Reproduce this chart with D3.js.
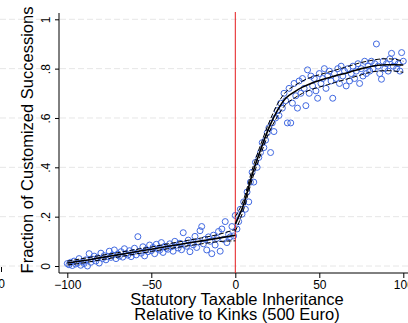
<!DOCTYPE html>
<html><head><meta charset="utf-8">
<script src="https://cdn.jsdelivr.net/npm/d3@7"></script>
<style>html,body{margin:0;padding:0;background:#fff;overflow:hidden}</style>
</head><body><svg id="c" width="408" height="323"></svg>
<script>
// ---- data ----
const yTicks = [0, 0.2, 0.4, 0.6, 0.8, 1];
const yTickLabels = ["0", ".2", ".4", ".6", ".8", "1"];
const xTicks = [-100, -50, 0, 50, 100];
const xTickLabels = ["\u2212100", "\u221250", "0", "50", "100"];

// binned scatter, left of kink (bins -100..-1)
const leftBins = d3.range(-100, 0);
const leftValues = [
  0.010, 0.005, 0.015, 0.002, 0.020, 0.008, 0.012, 0.030, 0.003, 0.018,
  0.010, 0.025, 0.000, 0.050, 0.015, 0.028, 0.040, 0.020, 0.033, 0.012,
  0.052, 0.030, 0.042, 0.025, 0.038, 0.060, 0.035, 0.045, 0.065, 0.030,
  0.048, 0.040, 0.058, 0.036, 0.070, 0.050, 0.044, 0.062, 0.038, 0.055,
  0.072, 0.045, 0.119, 0.060, 0.052, 0.078, 0.041, 0.066, 0.058, 0.085,
  0.062, 0.075, 0.050, 0.088, 0.070, 0.064, 0.095, 0.055, 0.080, 0.072,
  0.068, 0.090, 0.078, 0.060, 0.100, 0.084, 0.073, 0.092, 0.066, 0.135,
  0.088, 0.080, 0.105, 0.058, 0.095, 0.086, 0.120, 0.075, 0.098, 0.143,
  0.160, 0.090, 0.108, 0.065, 0.118, 0.100, 0.050, 0.125, 0.085, 0.112,
  0.140, 0.060, 0.150, 0.108, 0.180, 0.095, 0.128, 0.118, 0.160, 0.122
];
// right of kink (bins 0..100)
const rightBins = d3.range(0, 101);
const rightValues = [
  0.205, 0.150, 0.180, 0.230, 0.210, 0.260, 0.230, 0.300, 0.260, 0.340,
  0.380, 0.340, 0.420, 0.400, 0.440, 0.460, 0.500, 0.480, 0.510, 0.540,
  0.560, 0.460, 0.580, 0.545, 0.600, 0.630, 0.610, 0.660, 0.640, 0.700,
  0.670, 0.580, 0.720, 0.580, 0.660, 0.740, 0.690, 0.640, 0.750, 0.700,
  0.760, 0.720, 0.650, 0.795, 0.700, 0.770, 0.730, 0.760, 0.710, 0.680,
  0.780, 0.740, 0.760, 0.800, 0.720, 0.770, 0.790, 0.750, 0.680, 0.780,
  0.760, 0.800, 0.740, 0.810, 0.770, 0.790, 0.730, 0.800, 0.750, 0.780,
  0.810, 0.760, 0.790, 0.820, 0.740, 0.800, 0.770, 0.830, 0.780, 0.810,
  0.790, 0.830, 0.800, 0.820, 0.900, 0.810, 0.780, 0.757, 0.830, 0.800,
  0.820, 0.790, 0.840, 0.862, 0.810, 0.830, 0.800, 0.820, 0.790, 0.865,
  0.830
];

// fitted curves and confidence bands
const leftFitX = [-100, -90, -80, -70, -60, -50, -40, -30, -20, -10, 0];
const leftFit   = [0.012, 0.022, 0.034, 0.045, 0.057, 0.068, 0.080, 0.091, 0.102, 0.113, 0.125];
const leftUpper = [0.020, 0.031, 0.043, 0.054, 0.066, 0.077, 0.090, 0.102, 0.114, 0.128, 0.148];
const leftLower = [0.004, 0.013, 0.025, 0.036, 0.048, 0.059, 0.070, 0.080, 0.090, 0.099, 0.102];

const rightFitX = [0, 5, 10, 15, 20, 25, 30, 35, 40, 45, 50, 55, 60, 65, 70, 75, 80, 85, 90, 95, 100];
const rightFit   = [0.17, 0.25, 0.37, 0.47, 0.56, 0.63, 0.68, 0.705, 0.725, 0.74, 0.752, 0.762, 0.772, 0.78, 0.79, 0.80, 0.808, 0.814, 0.816, 0.816, 0.815];
const rightUpper = [0.20, 0.27, 0.39, 0.49, 0.58, 0.655, 0.705, 0.73, 0.75, 0.765, 0.775, 0.785, 0.795, 0.805, 0.815, 0.825, 0.832, 0.838, 0.84, 0.838, 0.83];
const rightLower = [0.14, 0.23, 0.35, 0.45, 0.54, 0.605, 0.655, 0.68, 0.70, 0.715, 0.725, 0.735, 0.745, 0.755, 0.765, 0.775, 0.785, 0.79, 0.792, 0.79, 0.785];

const xTitle = ["Statutory Taxable Inheritance", "Relative to Kinks (500 Euro)"];
const yTitle = "Fraction of Customized Successions";

// ---- drawing ----
const svg = d3.select("#c");
const font = "'Liberation Sans', Arial, Helvetica, sans-serif";
const x = d3.scaleLinear().domain([-100, 100]).range([67.3, 403.3]);
const y = d3.scaleLinear().domain([0, 1]).range([266, 19.3]);
const axisX0 = 59, axisY0 = 273;

// gridlines (main panel + remnant of neighbouring panel)
const grid = svg.append("g").attr("stroke", "#e6e6e6").attr("stroke-width", 1).attr("stroke-dasharray", "6,3");
yTicks.forEach(t => {
  grid.append("line").attr("x1", axisX0 + 1).attr("x2", 408).attr("y1", y(t)).attr("y2", y(t));
  grid.append("line").attr("x1", 0).attr("x2", 44).attr("y1", y(t)).attr("y2", y(t));
});
// remnant of neighbouring panel's axis label
svg.append("line").attr("x1", 1.5).attr("x2", 1.5).attr("y1", 267).attr("y2", 272).attr("stroke", "#000");
svg.append("text").attr("x", 5).attr("y", 288).attr("text-anchor", "end")
  .attr("font-family", font).attr("font-size", 12).text("100");

// y axis
const yAxis = d3.axisLeft(y).tickValues(yTicks).tickFormat((d, i) => yTickLabels[i]).tickSize(4).tickPadding(4);
const gy = svg.append("g").attr("transform", `translate(${axisX0},0)`).call(yAxis);
gy.select(".domain").attr("d", `M0,13V${axisY0}`);
gy.selectAll("text").attr("font-family", font).attr("font-size", 12)
  .attr("x", null).attr("dy", null)
  .attr("text-anchor", "middle")
  .attr("transform", `translate(-9,0) rotate(-90)`);

// x axis
const xAxis = d3.axisBottom(x).tickValues(xTicks).tickFormat((d, i) => xTickLabels[i]).tickSize(5).tickPadding(2);
const gx = svg.append("g").attr("transform", `translate(0,${axisY0})`).call(xAxis);
gx.select(".domain").attr("d", `M${axisX0},0H408`);
gx.selectAll("text").attr("font-family", font).attr("font-size", 12);

// scatter
const blue = "#4169e1";
const pts = svg.append("g").attr("fill", "none").attr("stroke", blue).attr("stroke-width", 1);
leftBins.forEach((b, i) => pts.append("circle").attr("cx", x(b)).attr("cy", y(leftValues[i])).attr("r", 3));
rightBins.forEach((b, i) => pts.append("circle").attr("cx", x(b)).attr("cy", y(rightValues[i])).attr("r", 3));

// red kink line
svg.append("line").attr("x1", x(0)).attr("x2", x(0)).attr("y1", 12).attr("y2", axisY0)
  .attr("stroke", "#e41a1c").attr("stroke-width", 1);

// fits
const line = (xs) => d3.line().x((d, i) => x(xs[i])).y(d => y(d)).curve(d3.curveMonotoneX);
const fits = svg.append("g").attr("fill", "none").attr("stroke", "#000");
fits.append("path").attr("d", line(leftFitX)(leftFit)).attr("stroke-width", 1.6);
fits.append("path").attr("d", line(leftFitX)(leftUpper)).attr("stroke-width", 1).attr("stroke-dasharray", "5,2");
fits.append("path").attr("d", line(leftFitX)(leftLower)).attr("stroke-width", 1).attr("stroke-dasharray", "5,2");
fits.append("path").attr("d", line(rightFitX)(rightFit)).attr("stroke-width", 1.6);
fits.append("path").attr("d", line(rightFitX)(rightUpper)).attr("stroke-width", 1).attr("stroke-dasharray", "5,2");
fits.append("path").attr("d", line(rightFitX)(rightLower)).attr("stroke-width", 1).attr("stroke-dasharray", "5,2");

// titles
svg.append("text").attr("transform", "translate(33,140) rotate(-90)").attr("text-anchor", "middle")
  .attr("font-family", font).attr("font-size", 16.5).text(yTitle);
svg.append("text").attr("x", 237).attr("y", 305).attr("text-anchor", "middle")
  .attr("font-family", font).attr("font-size", 16.5).text(xTitle[0]);
svg.append("text").attr("x", 237).attr("y", 320).attr("text-anchor", "middle")
  .attr("font-family", font).attr("font-size", 16.5).text(xTitle[1]);
</script></body></html>
